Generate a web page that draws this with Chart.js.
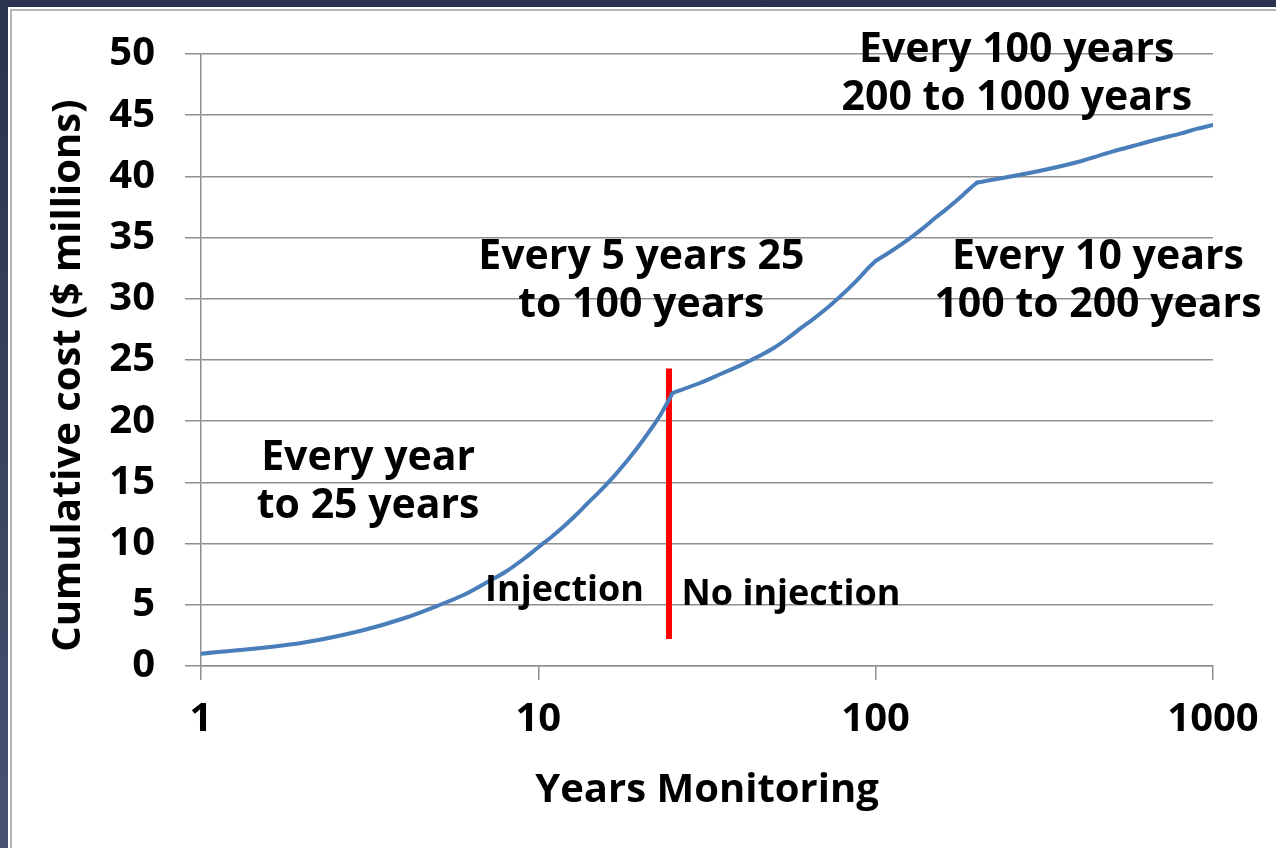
<!DOCTYPE html>
<html>
<head>
<meta charset="utf-8">
<script src="https://cdn.jsdelivr.net/npm/chart.js@4.4.1/dist/chart.umd.min.js"></script>
<style>
  html, body { margin: 0; padding: 0; width: 1276px; height: 848px; overflow: hidden; }
  body { background: linear-gradient(to bottom, #29324f, #46526f); position: relative; }
  #frame { position: absolute; left: 8px; top: 7px; right: 0; bottom: 0; background: #fff; }
  #inner { position: absolute; left: 2px; top: 2px; right: 0; bottom: 0; border-left: 2px solid #b4b4b4; border-top: 2px solid #b4b4b4; background: #fff; }
  #c { position: absolute; left: 0; top: 0; }
</style>
</head>
<body>
<div id="frame"><div id="inner"></div></div>
<canvas id="c" width="1276" height="848"></canvas>
<script>
// ---- data ----
const years = [1, 2, 3, 4, 5, 6, 7, 8, 9, 10, 11, 12, 13, 14, 15, 16, 17, 18, 19, 20, 21, 22, 23, 24, 25,
  30, 35, 40, 45, 50, 55, 60, 65, 70, 75, 80, 85, 90, 95, 100,
  110, 120, 130, 140, 150, 160, 170, 180, 190, 200,
  300, 400, 500, 600, 700, 800, 900, 1000];
const cumulativeCost = [1.0, 1.9, 2.9, 3.9, 4.9, 5.8, 6.8, 7.7, 8.7, 9.7, 10.6, 11.5, 12.4, 13.3, 14.1, 14.9, 15.7, 16.5, 17.3, 18.1, 18.9, 19.7, 20.5, 21.4, 22.3,
  23.1, 23.9, 24.6, 25.3, 26.0, 26.8, 27.6, 28.3, 29.0, 29.7, 30.4, 31.1, 31.8, 32.5, 33.1,
  33.8, 34.5, 35.2, 35.9, 36.6, 37.2, 37.8, 38.4, 39.0, 39.5,
  40.4, 41.2, 42.0, 42.6, 43.1, 43.5, 43.9, 44.2];
// years where the monitoring interval changes (1 -> 5 -> 10 -> 100 years)
const intervalBreaks = [25, 100, 200];
const dividerYears = [24.4, 24.4];
const dividerCost = [2.2, 24.3];
const xTickValues = [1, 10, 100, 1000];
const xTickLabels = ['1', '10', '100', '1000'];
const xTitle = 'Years Monitoring';
const yTitle = 'Cumulative cost ($ millions)\u00A0\u00A0\u00A0';

// annotation texts (anchored in data units: years, $ millions)
const annotations = [
  { lines: ['Every 100 years', '200 to 1000 years'], x: 262, y: 48.3, size: 41 },
  { lines: ['Every 5 years 25', 'to 100 years'], x: 20.2, y: 31.4, size: 41 },
  { lines: ['Every 10 years', '100 to 200 years'], x: 456, y: 31.4, size: 41 },
  { lines: ['Every year', 'to 25 years'], x: 3.13, y: 15.0, size: 41 },
  { lines: ['Injection'], x: 11.96, y: 6.16, size: 36 },
  { lines: ['No injection'], x: 56.1, y: 5.83, size: 36 }
];

const textPlugin = {
  id: 'textNotes',
  afterDatasetsDraw(chart) {
    const ctx = chart.ctx;
    const xs = chart.scales.x, ys = chart.scales.y;
    ctx.save();
    ctx.fillStyle = '#000';
    ctx.textAlign = 'center';
    ctx.textBaseline = 'middle';
    annotations.forEach(a => {
      const cx = xs.getPixelForValue(a.x);
      const cy = ys.getPixelForValue(a.y);
      const lh = 48;
      ctx.font = 'bold ' + a.size + 'px "Open Sans"';
      const n = a.lines.length;
      a.lines.forEach((t, i) => {
        ctx.fillText(t, cx, cy + (i - (n - 1) / 2) * lh);
      });
    });
    ctx.restore();
  }
};

// split the cost curve into its monitoring-interval pieces (each smoothed on its own,
// so the slope changes at 25, 100 and 200 years stay sharp)
const bounds = [years[0]].concat(intervalBreaks, [years[years.length - 1]]);
const curveSets = [];
for (let k = 0; k < bounds.length - 1; k++) {
  const pts = [];
  years.forEach((x, i) => { if (x >= bounds[k] && x <= bounds[k + 1]) pts.push({ x: x, y: cumulativeCost[i] }); });
  curveSets.push({
    data: pts,
    borderColor: '#4a7ebb',
    borderWidth: 4,
    pointRadius: 0,
    cubicInterpolationMode: 'monotone',
    borderJoinStyle: 'round',
    borderCapStyle: 'round',
    fill: false
  });
}

const gridGray = '#8f8f8f';
const tickFont = { family: '"Open Sans"', size: 40, weight: 'bold' };

new Chart(document.getElementById('c'), {
  type: 'line',
  data: {
    datasets: curveSets.concat([
      {
        data: dividerYears.map((x, i) => ({ x: x, y: dividerCost[i] })),
        borderColor: '#ff0000',
        borderWidth: 6,
        pointRadius: 0,
        fill: false,
        borderCapStyle: 'butt'
      }
    ])
  },
  options: {
    responsive: false,
    animation: false,
    devicePixelRatio: 1,
    layout: { padding: { left: 0, top: 49, right: 63, bottom: 0 } },
    plugins: { legend: { display: false }, tooltip: { enabled: false } },
    scales: {
      x: {
        type: 'logarithmic',
        min: 1, max: 1000,
        afterBuildTicks: s => { s.ticks = xTickValues.map(v => ({ value: v })); },
        afterFit: s => { s.height = 182; },
        ticks: {
          color: '#000', font: tickFont, padding: 16, maxRotation: 0, autoSkip: false,
          callback: (v) => { const i = xTickValues.indexOf(v); return i >= 0 ? xTickLabels[i] : ''; }
        },
        grid: { drawOnChartArea: false, drawTicks: true, tickLength: 14, color: gridGray, lineWidth: 1.5 },
        border: { display: true, color: gridGray, width: 1.5 },
        title: { display: true, text: xTitle, color: '#000', font: tickFont, padding: { top: 0, bottom: 33 } }
      },
      y: {
        type: 'linear',
        min: 0, max: 50,
        afterFit: s => { s.width = 201; },
        ticks: { stepSize: 5, color: '#000', font: tickFont, padding: 30 },
        grid: { drawTicks: true, tickLength: 16, color: gridGray, lineWidth: 1.5 },
        border: { display: true, color: gridGray, width: 1.5 },
        title: { display: true, text: yTitle, color: '#000', font: tickFont, padding: { top: 45, bottom: 0 } }
      }
    }
  },
  plugins: [textPlugin]
});
</script>
</body>
</html>
